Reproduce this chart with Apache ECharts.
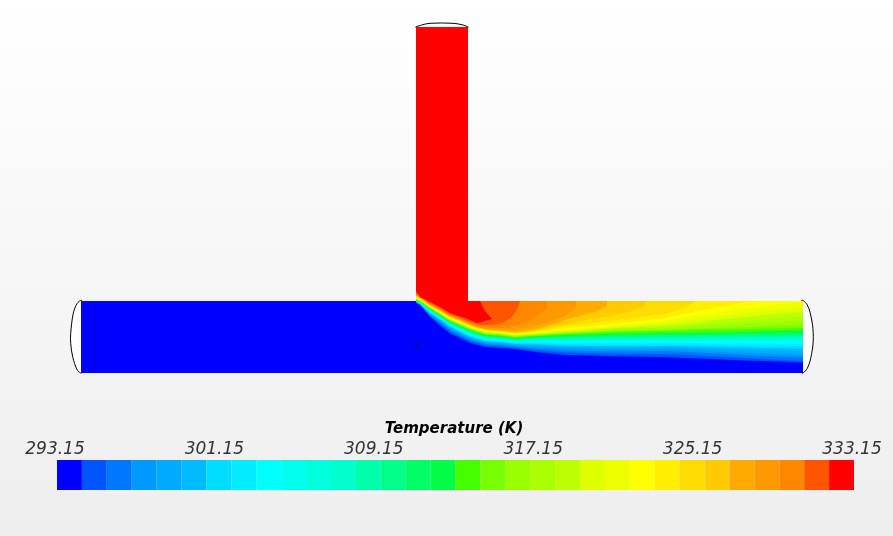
<!DOCTYPE html>
<html><head><meta charset="utf-8">
<style>html,body{margin:0;padding:0;background:#fff}#c{width:893px;height:536px}</style>
<script src="https://cdn.jsdelivr.net/npm/echarts@6/dist/echarts.min.js"></script>
</head><body><div id="c"></div>
<script>
// Colour scale
const barEdges=[293.15,294.4,295.65,296.9,298.15,299.4,300.65,301.9,303.15,304.4,305.65,306.9,308.15,309.4,310.65,311.9,313.15,314.4,315.65,316.9,318.15,319.4,320.65,321.9,323.15,324.4,325.65,326.9,328.15,329.4,330.65,331.9,333.15];
const tickValues=[293.15,301.15,309.15,317.15,325.15,333.15];
const bandColors=['#0000ff','#0055ff','#0077ff','#0099ff','#00aaff','#00bbff','#00ddff','#00eeff','#00ffff','#00ffee','#00ffdd','#00ffcc','#00ffaa','#00ff88','#00ff66','#00ff44','#44ff00','#77ff00','#99ff00','#aaff00','#bbff00','#ddff00','#eeff00','#ffff00','#ffee00','#ffdd00','#ffcc00','#ffaa00','#ff9900','#ff8800','#ff5500','#ff0000'];

// Geometry (domain units of the drawing)
const mainPipe=[[81,301],[803,301],[803,373],[81,373]];
const leftCap=[[81.7,300.7],[77.3,303.3],[73.3,313.3],[70.7,333.3],[70.7,343.3],[72.7,356.7],[77.3,370],[81.7,372.7]];
const rightCap=[[801.7,300.7],[807.3,305],[811.7,320],[813.3,336.7],[811.7,353.3],[807.3,368.3],[801.7,372.7]];
const topCap=[[416,27.3],[421.7,25],[430,23.3],[453,23.3],[463,25],[468,27.3]];
const speck=[[415,347.7],[416.7,346.7],[419.3,343.3]];

// Isotherm heights at stations along the main pipe (levels 1..24)
const stations=[416,420,430,440,450,460,470,485,500,515,535,565,615,665,698,745,765,803];
const at416=[302,302,302,302,301.8,301.8,301.6,301.6,301.5,301.4,301.3,301.2,301.1,301,300.8,300.5,300,299.6,299.2,298.8,298.4,298,297.6,297.2];
const at420=[305,304.8,304.6,304.4,304.2,304,303.8,303.6,303.4,303.1,302.8,302.6,302.3,302,301.8,301.5,301.2,301,300.8,300.5,300.3,300,299.8,299.5];
const at430=[317,316,315,314.2,313.5,312.9,312.3,311.8,311.3,310.9,310.5,310.1,309.7,309.3,308.9,308.5,308.2,307.9,307.6,307.3,307,306.7,306.4,306.1];
const at440=[325.5,323.8,322.3,321.2,320.3,319.6,319,318.4,317.9,317.4,317,316.6,316.2,315.8,315.4,315,314.6,314.2,313.8,313.4,313,312.6,312.2,311.8];
const at450=[333.5,331.5,329.8,328.5,327.5,326.7,326,325.4,324.8,324.2,323.7,323.2,322.7,322.2,321.7,321.2,320.8,320.4,320,319.6,319.2,318.8,318.4,318];
const at460=[338,336.5,335,333.8,332.8,332,331.2,330.5,330,329.3,328.7,328.1,327.5,326.9,326.3,325.7,325.2,324.7,324.2,323.7,323.2,322.7,322.3,321.8];
const at470=[343,341,339.5,338.4,337.5,336.7,335.9,335.2,334.6,334,333.3,332.6,332,331.3,330.7,330,329.5,329,328.6,328.2,327.8,327.4,327,326.6];
const at485=[347,345.5,344,342.8,342,341.3,340.5,339.7,339,338.4,337.9,337.4,336.9,336.3,335.7,335,334.4,333.8,333.2,332.6,332,331.5,331,330.5];
const at500=[348,346.5,345,344,343,342.3,341.5,340.7,340,339.4,338.8,338.2,337.7,337.2,336.7,336,335.3,334.8,334.3,333.8,333.3,332.9,332.5,332];
const at515=[349,347.7,346.5,345.5,344.7,344,343.3,342.6,342,341.3,340.7,340,339.5,339,338.5,338,337.3,336.8,336.4,336,335.5,335,334.5,334];
const at535=[352,350,348.2,346.7,345.5,344.5,343.5,342.3,341.3,340.5,339.8,339,338.3,337.7,337,336.3,335.7,335.2,334.7,334.2,333.7,333.2,332.7,332];
const at565=[355,352.5,350.5,348.3,347,345.7,344.3,342.8,341.5,340.7,339.8,339,338,337,336,335,334,333.5,333,332.5,331.7,331,329.7,328];
const at615=[356.3,353.8,351.5,349.5,347.8,346.3,345,343,341.3,340.3,339.3,338.3,337,335.8,334.8,333.7,331.8,330.7,329.8,328.8,328,327,326,324];
const at665=[357.3,354,351,349.3,347.3,346,344.7,342.7,341,340,339,338,336.7,335.3,334,333,331,330,329,327,325,323,320.7,318];
const at698=[358.5,355.5,352.5,350.3,348,346.5,345,343,341,340,339,338,336.5,335,333.7,332.7,330,328.7,326.3,324,322,318.7,315,311];
const at745=[360.4,358,355,353,350,347.7,345.8,343.4,341,339.9,338.6,337.6,336.1,334.7,333.3,331.9,329.3,327,324,321,317,313,308.5,302];
const at765=[361,359,356,353.7,350.5,348,346,343.5,341,339.8,338.5,337.4,336,334.5,333.2,331.3,328.7,326.3,323,319.7,315,311,306,301];
const at803=[362.5,360.7,357,354.7,351,348.7,346.3,343.7,341,339.7,338.3,337,335.8,334.3,333,330.7,328,325,321,316,312,308,302,301];
const profiles=[at416,at420,at430,at440,at450,at460,at470,at485,at500,at515,at535,at565,at615,at665,at698,at745,at765,at803];

// Warm isotherms (levels 25..31): these form tongues along the upper wall
const level25=[[416,296.5],[430,305.8],[440,311.4],[450,317.5],[460,321.2],[470,326],[485,330],[500,331.6],[515,333.3],[535,331.3],[565,326],[615,320],[665,314],[682,308.7],[693,303],[693,301]];
const level26=[[416,296],[430,305.4],[440,311],[450,317],[460,320.7],[470,325.5],[485,329.7],[500,331],[515,332.5],[535,330.5],[565,324],[582,320.7],[598,318],[615,314.7],[632,311],[645,306],[645,301]];
const level27=[[416,295.5],[430,305],[440,310.6],[450,316.5],[460,320.2],[470,325],[485,329.3],[500,330.4],[515,331.5],[535,329.3],[548,326],[565,320],[582,315],[598,311],[607,306],[607,301]];
const level28=[[416,295],[430,304.6],[440,310.1],[450,316],[460,319.6],[470,324.2],[485,328.8],[500,329.7],[515,329.5],[535,326],[548,322],[565,316],[573,310],[577,304],[575,301]];
const level29=[[416,294.5],[430,304.2],[440,309.6],[450,315.3],[460,319],[470,323.3],[478,327],[485,327.5],[500,328],[508,327],[525,323],[537,316],[547,308],[547,303],[545,301]];
const level30=[[416,294],[430,303.3],[440,308.5],[450,314.3],[460,318],[470,322],[478,325],[492,325],[503,323],[513,316],[518,308],[520,301]];
const level31=[[416,291],[420,297],[430,302],[440,307],[450,313],[460,316.5],[465,318],[470,320],[477,323],[485,321],[492,319],[485,311],[480,301]];
const warmLevels=[level25,level26,level27,level28,level29,level30,level31];

const closure=[[803,301],[468,301],[468,288],[416,288]];
const cmn={xAxisIndex:0,yAxisIndex:0,silent:true,animation:false};
function polySeries(points,fill,stroke,z,smooth){
  return Object.assign({type:'custom',coordinateSystem:'cartesian2d',data:points,z:z,clip:false,
    renderItem(params,api){
      if(params.dataIndex!==0) return null;
      return {type:'polygon',shape:{points:points.map(p=>api.coord(p)),smooth:smooth||0},
        style:{fill:fill,stroke:stroke||null,lineWidth:stroke?1:0}};
    }},cmn);
}
const series=[];
[leftCap,rightCap,topCap].forEach(c=>series.push(polySeries(c,'#ffffff','#000000',1,0.35)));
series.push(polySeries(mainPipe,bandColors[0],null,2));
for(let k=1;k<=24;k++){
  const pts=stations.map((x,j)=>[x,profiles[j][k-1]]).concat(closure);
  series.push(polySeries(pts,bandColors[k],null,2+k));
}
warmLevels.forEach((lv,i)=>{
  const k=25+i;
  const c=k===31?[[468,301],[468,27],[416,27]]:[[468,301],[468,288],[416,288]];
  series.push(polySeries(lv.concat(c),bandColors[k],null,2+k));
});
series.push(Object.assign({type:'line',data:speck,showSymbol:false,z:60,lineStyle:{color:'#000',width:1}},cmn));
// Colour bar
series.push({type:'custom',coordinateSystem:'cartesian2d',xAxisIndex:1,yAxisIndex:1,silent:true,animation:false,z:5,
  data:bandColors.map((c,i)=>[barEdges[i],barEdges[i+1],0,1]),
  renderItem(params,api){
    const a=api.coord([api.value(0),api.value(2)]),b=api.coord([api.value(1),api.value(3)]);
    return {type:'rect',shape:{x:a[0],y:b[1],width:b[0]-a[0],height:a[1]-b[1]},style:{fill:bandColors[params.dataIndex]}};
  }});

const chart=echarts.init(document.getElementById('c'),null,{renderer:'canvas'});
chart.setOption({
  animation:false,
  backgroundColor:{type:'linear',x:0,y:0,x2:0,y2:1,colorStops:[{offset:0,color:'#ffffff'},{offset:1,color:'#eeeeee'}]},
  title:{text:'Temperature (K)',left:449,top:417,textAlign:'center',
    textStyle:{fontFamily:'DejaVu Sans',fontStyle:'italic',fontWeight:'bold',fontSize:15,color:'#000'}},
  grid:[{left:0,right:0,top:0,bottom:0},{left:57,width:797,top:460,height:30}],
  xAxis:[
    {type:'value',gridIndex:0,min:0,max:893,show:false},
    {type:'value',gridIndex:1,min:293.15,max:333.15,position:'top',
     axisLine:{show:false},axisTick:{show:false},splitLine:{show:false},
     axisLabel:{customValues:tickValues,formatter:v=>v.toFixed(2),margin:2,padding:[0,4,0,0],hideOverlap:false,showMinLabel:true,showMaxLabel:true,
       fontFamily:'DejaVu Sans',fontStyle:'italic',fontSize:17,color:'#333'}}
  ],
  yAxis:[
    {type:'value',gridIndex:0,min:0,max:536,inverse:true,show:false},
    {type:'value',gridIndex:1,min:0,max:1,show:false}
  ],
  series:series
});
</script></body></html>
